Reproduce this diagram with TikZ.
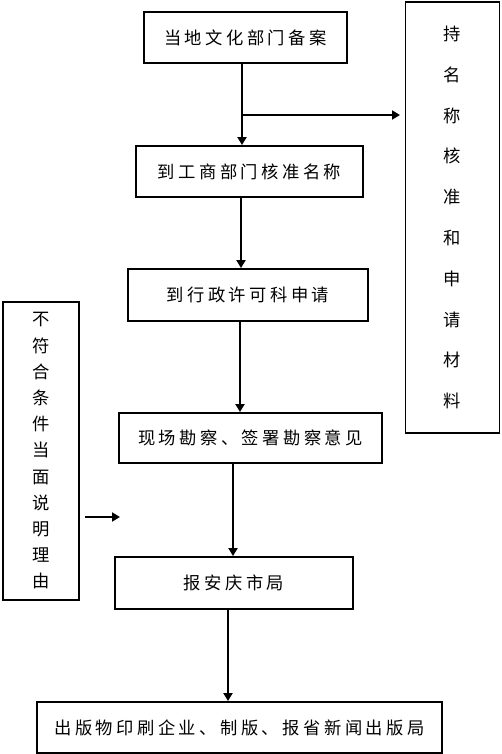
\documentclass[tikz,border=0pt]{standalone}
\usepackage{fontspec}
\usetikzlibrary{arrows.meta}
\newfontfamily\cjk[LetterSpace=20]{Noto Sans CJK SC}
\newfontfamily\cjkv{Noto Sans CJK SC}
\begin{document}
\begin{tikzpicture}[x=1pt,y=-1pt,
  box/.style={draw=black,line width=1.9pt,inner sep=0pt,align=center,
    font=\cjk\fontsize{17.3}{20}\selectfont},
  vbox/.style={draw=black,line width=1.9pt,inner sep=0pt,align=center},
  flow/.style={line width=1.9pt,-{Triangle[width=9pt,length=8pt]}}]
\useasboundingbox (0,0) rectangle (501,754);
\node[box,minimum width=203pt,minimum height=51pt] (b1) at (245.5,37.5) {当地文化部门备案};
\node[vbox,minimum width=94pt,minimum height=431pt,
  font=\cjkv\fontsize{17.3}{40.8}\selectfont] (r) at (452.5,217.5)
  {持\\名\\称\\核\\准\\和\\申\\请\\材\\料};
\node[box,minimum width=227pt,minimum height=51pt] (b3) at (249.5,171.5) {到工商部门核准名称};
\node[box,minimum width=240pt,minimum height=52pt] (b4) at (248,295) {到行政许可科申请};
\node[vbox,minimum width=76pt,minimum height=298pt,
  font=\cjkv\fontsize{17.3}{26.2}\selectfont] (L) at (41,451)
  {不\\符\\合\\条\\件\\当\\面\\说\\明\\理\\由};
\node[box,minimum width=263pt,minimum height=50pt] (b6) at (250.5,438) {现场勘察、签署勘察意见};
\node[box,minimum width=238pt,minimum height=52pt] (b7) at (234,583) {报安庆市局};
\node[box,minimum width=405pt,minimum height=51pt] (b8) at (239.5,727.5) {出版物印刷企业、制版、报省新闻出版局};
% connectors
\coordinate (j1) at (242,115);
\coordinate (e1) at (400,115);
\draw[flow] (b1.south -| j1) -- (b3.north -| j1);
\draw[flow] (j1) -- (e1);
\coordinate (x2) at (241,0);
\draw[flow] (b3.south -| x2) -- (b4.north -| x2);
\coordinate (x3) at (240,0);
\draw[flow] (b4.south -| x3) -- (b6.north -| x3);
\coordinate (x4) at (233,0);
\draw[flow] (b6.south -| x4) -- (b7.north -| x4);
\coordinate (x5) at (228,0);
\draw[flow] (b7.south -| x5) -- (b8.north -| x5);
\coordinate (s1) at (85,517);
\coordinate (s2) at (120,517);
\draw[flow] (s1) -- (s2);
\end{tikzpicture}
\end{document}
